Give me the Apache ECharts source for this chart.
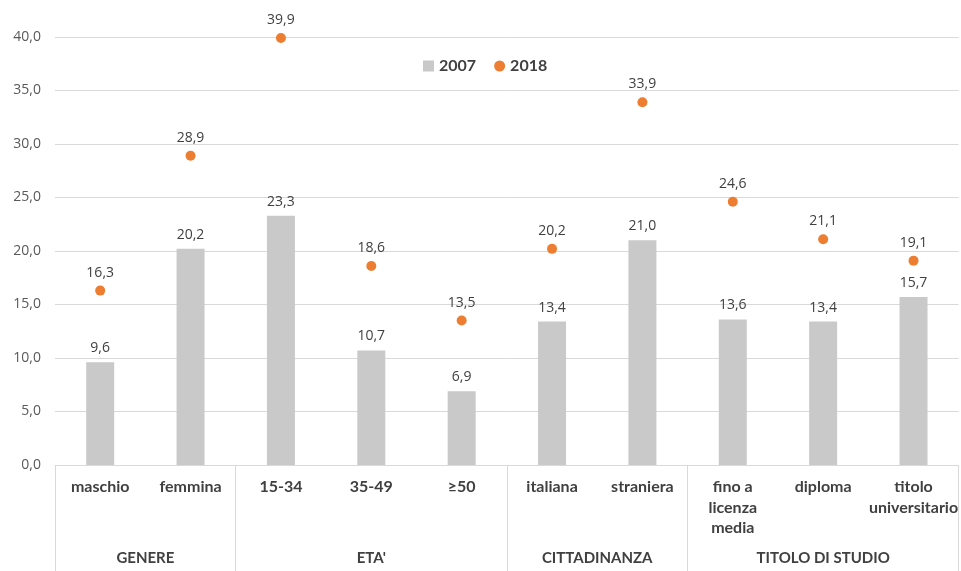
<!DOCTYPE html>
<html>
<head>
<meta charset="utf-8">
<script src="https://cdn.jsdelivr.net/npm/echarts@6/dist/echarts.min.js"></script>
<style>
  html, body { margin: 0; padding: 0; background: #fff; }
  #main { width: 961px; height: 571px; }
</style>
</head>
<body>
<div id="main"></div>
<script>
// dati
var categories = ['maschio', 'femmina', '15-34', '35-49', '≥50', 'italiana', 'straniera', 'fino a\nlicenza\nmedia', 'diploma', 'titolo\nuniversitario'];
var values2007 = [9.6, 20.2, 23.3, 10.7, 6.9, 13.4, 21.0, 13.6, 13.4, 15.7];
var values2018 = [16.3, 28.9, 39.9, 18.6, 13.5, 20.2, 33.9, 24.6, 21.1, 19.1];
var groupNames = ['GENERE', "ETA'", 'CITTADINANZA', 'TITOLO DI STUDIO'];
var groupSizes = [2, 3, 2, 3];

var groupBounds = [0];
var groupCenters = [];
groupSizes.forEach(function (n) {
  var start = groupBounds[groupBounds.length - 1];
  groupCenters.push(start + n / 2);
  groupBounds.push(start + n);
});

var fmt = function (v) { return v.toFixed(1).replace('.', ','); };
var font = 'Lato, "Open Sans", sans-serif';
var numFont = '"Open Sans", sans-serif';

var chart = echarts.init(document.getElementById('main'));
var option = {
  animation: false,
  textStyle: { fontFamily: font },
  grid: { left: 55, right: 0, top: 37, bottom: 106 },
  legend: {
    left: 418, top: 53,
    itemWidth: 11, itemHeight: 11, itemGap: 18,
    textStyle: { fontSize: 16, fontWeight: 'bold', color: '#404040', fontFamily: font },
    data: [{ name: '2007', icon: 'rect' }, { name: '2018', icon: 'circle' }]
  },
  xAxis: [
    {
      type: 'category',
      data: categories,
      axisLine: { show: true, lineStyle: { color: '#d9d9d9' } },
      axisTick: { show: false },
      axisLabel: {
        interval: 0, margin: 12, fontSize: 16, lineHeight: 20.5,
        fontWeight: 'bold', color: '#404040'
      }
    },
    {
      type: 'value',
      position: 'bottom',
      min: 0, max: categories.length,
      axisLine: { show: false },
      splitLine: { show: false },
      axisTick: {
        show: true, inside: false, length: 110,
        customValues: groupBounds,
        lineStyle: { color: '#d9d9d9' }
      },
      axisLabel: {
        margin: 86, fontSize: 15, fontWeight: 'bold', color: '#404040',
        customValues: groupCenters,
        formatter: function (v) {
          var i = groupCenters.indexOf(v);
          return i >= 0 ? groupNames[i] : '';
        }
      }
    }
  ],
  yAxis: {
    type: 'value', min: 0, max: 40, interval: 5,
    axisLine: { show: false },
    axisTick: { show: false },
    splitLine: { lineStyle: { color: '#d9d9d9' } },
    axisLabel: { margin: 14, fontSize: 14, color: '#595959', fontFamily: numFont, formatter: fmt }
  },
  series: [
    {
      name: '2007', type: 'bar', xAxisIndex: 0,
      data: values2007, barWidth: 28,
      itemStyle: { color: '#c9c9c9' },
      label: {
        show: true, position: 'top', distance: 7,
        fontSize: 14, fontWeight: 'normal', color: '#404040', fontFamily: numFont,
        formatter: function (p) { return fmt(p.value); }
      }
    },
    {
      name: '2018', type: 'scatter', xAxisIndex: 0,
      data: values2018, symbol: 'circle', symbolSize: 10,
      itemStyle: { color: '#ed7d31', opacity: 1 },
      label: {
        show: true, position: 'top', distance: 6,
        fontSize: 14, fontWeight: 'normal', color: '#404040', fontFamily: numFont,
        formatter: function (p) { return fmt(p.value); }
      }
    }
  ]
};
chart.setOption(option);
</script>
</body>
</html>
